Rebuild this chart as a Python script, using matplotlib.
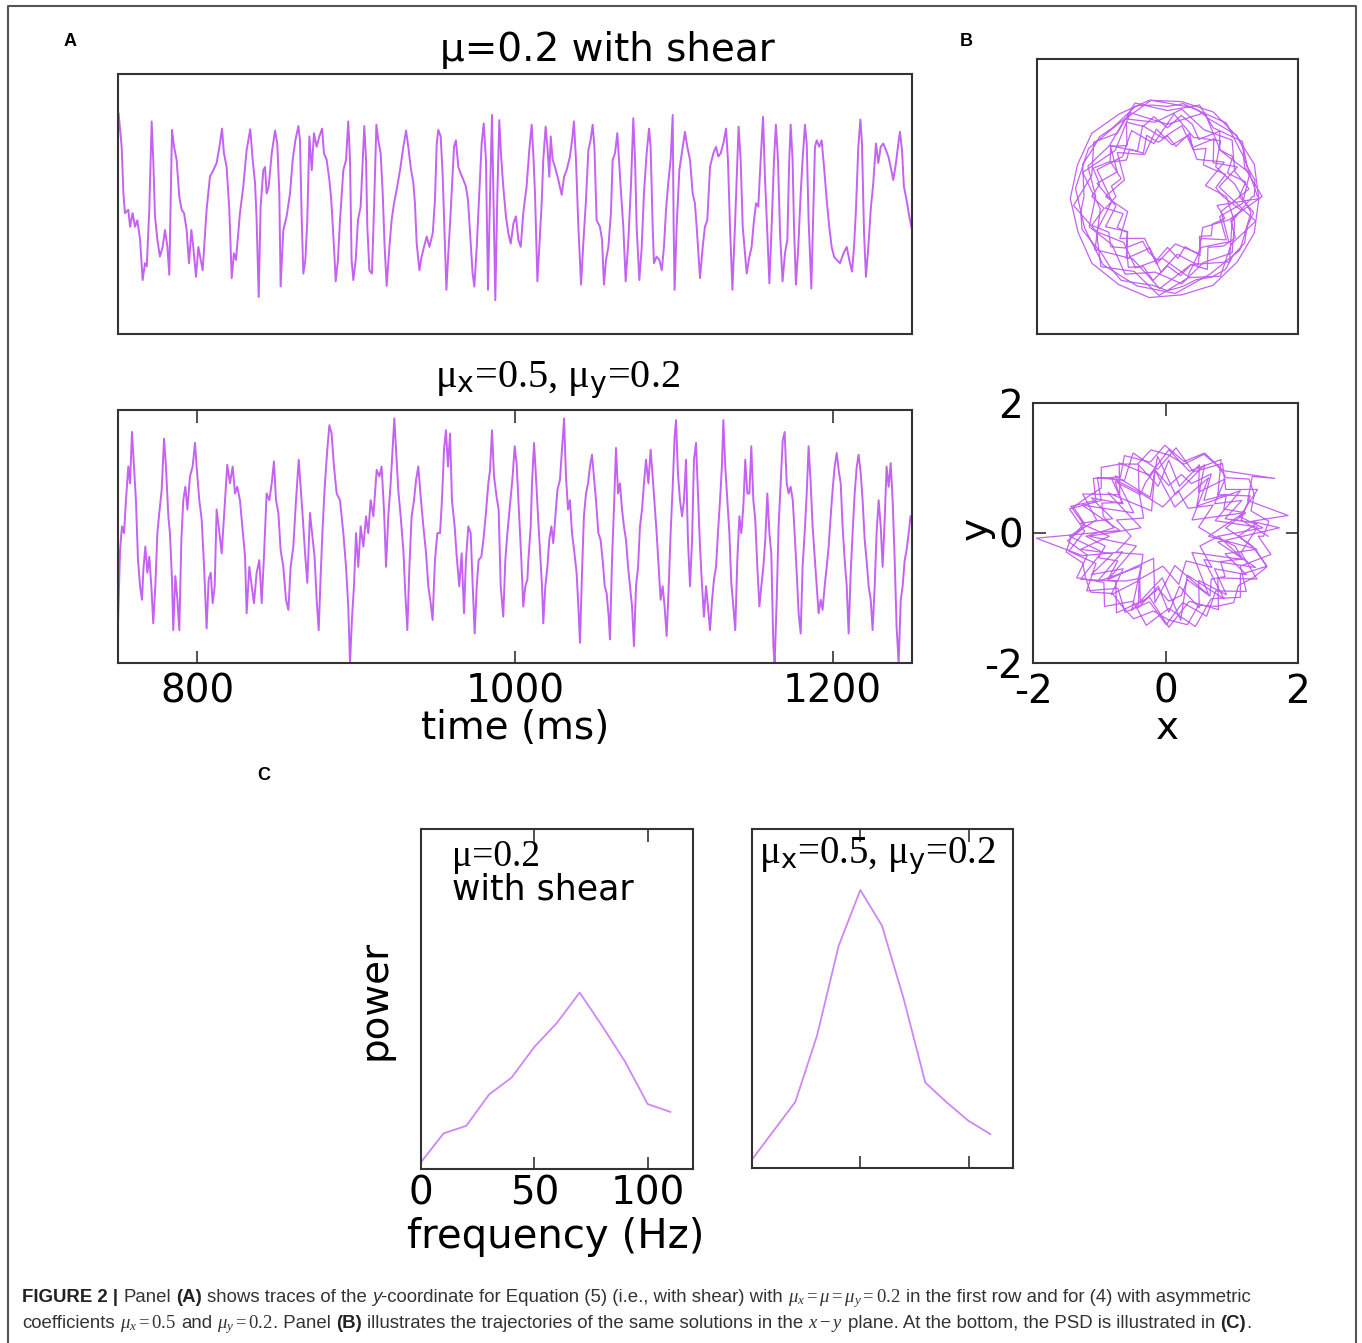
import matplotlib
matplotlib.use("Agg")
import matplotlib.pyplot as plt
from matplotlib.lines import Line2D

# ---------------- data ----------------
# Panel A, top row: y-coordinate vs time (ms), mu=0.2 with shear
trace_shear = [
    (750.4, 1.39), (752.3, 0.88), (753.4, 0.16), (754.4, -0.14), (756.5, -0.09), (757.6, -0.35), (759.2, -0.14), (760.7, -0.35), (762.2, -0.25), (763.9, -0.55),
    (765.5, -1.17), (767.0, -0.91), (768.1, -0.96), (769.7, -0.09), (771.2, 1.27), (772.2, 0.68), (773.3, -0.19), (774.8, -0.55), (776.4, -0.81), (778.1, -0.66),
    (779.6, -0.40), (781.1, -0.66), (782.3, -1.09), (784.0, 1.14), (785.3, 0.88), (786.9, 0.68), (788.6, 0.11), (790.1, -0.09), (791.6, -0.14), (793.2, -0.40),
    (794.7, -0.91), (796.2, -0.40), (797.4, -0.66), (799.1, -1.12), (800.6, -0.66), (802.1, -0.86), (803.3, -1.02), (805.8, -0.09), (807.9, 0.42), (810.0, 0.52),
    (812.1, 0.63), (814.2, 0.93), (815.5, 1.16), (816.7, 0.78), (818.4, 0.57), (820.1, -0.09), (821.6, -1.14), (823.0, -0.76), (824.3, -0.86), (826.8, -0.14),
    (828.9, 0.27), (831.0, 0.83), (833.3, 1.15), (834.8, 0.68), (836.3, 0.32), (837.3, -0.25), (838.6, -1.43), (839.8, -0.04), (841.5, 0.52), (842.6, 0.57),
    (843.6, 0.16), (844.9, 0.27), (846.8, 0.78), (848.9, 1.13), (850.3, 0.93), (851.6, 0.16), (852.4, -1.27), (854.1, -0.40), (856.2, -0.19), (858.3, 0.16),
    (860.0, 0.68), (861.7, 0.98), (863.6, 1.20), (864.6, 0.98), (865.7, -0.25), (866.7, -1.07), (868.0, -0.86), (869.2, -0.25), (870.5, 1.04), (872.0, 0.52),
    (873.4, 1.09), (875.1, 0.88), (876.8, 1.04), (878.5, 1.16), (879.7, 0.78), (881.4, 0.68), (883.1, 0.37), (884.3, 0.06), (886.0, -0.66), (887.1, -1.19),
    (888.5, -0.86), (889.8, -0.25), (891.9, 0.52), (893.6, 0.68), (895.0, 1.27), (896.1, 0.68), (897.1, -0.86), (898.2, -1.17), (899.7, -0.86), (901.1, -0.25),
    (902.8, -0.04), (904.1, 0.68), (905.1, 1.20), (906.2, 0.68), (907.0, -0.35), (908.3, -1.02), (909.9, -1.07), (911.2, -0.09), (912.7, 1.22), (913.9, 0.98),
    (915.4, 0.78), (916.7, 0.16), (917.9, -0.66), (919.2, -1.26), (920.9, -0.66), (922.3, -0.25), (923.8, 0.01), (925.5, 0.22), (927.6, 0.52), (929.7, 0.88),
    (931.4, 1.13), (932.8, 0.88), (934.3, 0.57), (936.0, 0.32), (937.0, 0.01), (938.1, -0.61), (939.8, -1.02), (941.2, -0.81), (942.7, -0.66), (944.4, -0.50),
    (946.1, -0.66), (948.2, -0.45), (949.6, 0.06), (950.7, 0.93), (951.7, 1.14), (953.2, 1.04), (954.4, 0.47), (955.5, -0.35), (956.8, -1.32), (958.0, -0.76),
    (959.1, -0.30), (960.1, 0.16), (961.6, 0.88), (962.8, 0.98), (964.3, 0.57), (965.8, 0.47), (967.5, 0.37), (969.1, 0.27), (970.4, 0.06), (971.7, -0.45),
    (973.3, -1.07), (974.4, -1.27), (975.9, -0.66), (977.5, 0.16), (979.0, 0.93), (980.3, 1.24), (981.7, 0.68), (983.0, -1.32), (984.3, 0.16), (985.5, 1.37),
    (986.4, 0.16), (987.6, -1.48), (988.9, 0.16), (990.1, 1.29), (991.4, 0.68), (992.6, 0.27), (994.3, -0.19), (995.8, -0.45), (997.3, -0.61), (999.0, -0.30),
    (1000.6, -0.19), (1002.1, -0.55), (1003.6, -0.66), (1005.2, -0.14), (1007.3, 0.27), (1009.0, 0.83), (1010.5, 1.22), (1011.5, 0.78), (1012.6, 0.16), (1014.1, -1.19),
    (1015.3, -0.66), (1016.8, 0.01), (1017.8, 0.68), (1019.3, 1.19), (1020.4, 0.88), (1021.6, 0.42), (1022.5, 1.04), (1023.7, 0.68), (1025.2, 0.57), (1027.3, 0.37),
    (1029.4, 0.14), (1030.9, 0.42), (1032.5, 0.52), (1034.6, 0.73), (1036.1, 1.01), (1037.1, 1.27), (1038.4, 0.68), (1039.9, -0.35), (1041.6, -1.24), (1043.0, -0.61),
    (1044.7, 0.06), (1046.2, 0.83), (1047.6, 0.98), (1048.9, 1.22), (1050.0, 0.88), (1051.4, -0.25), (1053.5, -0.35), (1054.8, -0.55), (1056.0, -1.24), (1057.3, -0.86),
    (1058.8, -0.66), (1060.4, -0.14), (1061.5, 0.68), (1063.0, 0.78), (1064.4, 1.09), (1065.5, 0.68), (1066.5, 0.27), (1068.2, -0.35), (1069.7, -1.19), (1071.4, -0.55),
    (1073.0, 0.27), (1074.5, 1.32), (1075.6, 0.68), (1076.6, -0.35), (1078.3, -1.17), (1079.8, -0.66), (1081.2, 0.16), (1082.9, 0.78), (1084.4, 1.16), (1085.4, 0.88),
    (1086.7, -0.35), (1087.5, -0.91), (1089.2, -0.81), (1090.9, -0.86), (1092.4, -1.02), (1093.8, -0.66), (1095.1, -0.09), (1096.5, 0.32), (1098.0, 0.68), (1099.3, 1.37),
    (1099.9, -0.35), (1100.5, -1.32), (1101.8, -0.35), (1103.5, 0.52), (1105.6, 0.88), (1107.0, 1.11), (1108.5, 0.88), (1110.2, 0.68), (1111.9, 0.16), (1113.3, 0.01),
    (1114.4, -0.35), (1116.5, -1.14), (1118.2, -0.66), (1119.6, -0.35), (1121.1, -0.25), (1122.8, 0.57), (1124.9, 0.78), (1126.6, 0.88), (1128.0, 0.73), (1129.5, 0.78),
    (1131.2, 0.93), (1132.9, 1.16), (1134.1, 0.68), (1135.4, -0.35), (1136.9, -1.32), (1138.5, -0.35), (1139.6, 0.37), (1140.8, 1.19), (1142.1, 0.68), (1143.4, -0.35),
    (1145.9, -1.07), (1147.6, -0.81), (1149.0, -0.66), (1150.5, -0.25), (1151.8, 0.01), (1153.2, -0.04), (1154.7, 0.68), (1156.2, 1.34), (1157.4, 0.42), (1158.9, -0.45),
    (1160.2, -1.22), (1161.6, -0.35), (1163.1, 0.68), (1164.3, 1.22), (1165.6, 0.68), (1166.9, -0.45), (1168.5, -1.19), (1170.0, -0.76), (1171.5, -0.55), (1172.7, 0.68),
    (1173.6, 1.22), (1174.8, 0.68), (1175.7, -0.35), (1176.9, -1.24), (1178.4, -0.66), (1179.9, 0.16), (1181.1, 0.68), (1182.6, 1.22), (1183.7, 0.93), (1184.9, -0.25),
    (1186.6, -1.30), (1187.9, -0.04), (1188.9, 0.88), (1190.0, 0.98), (1191.6, 0.88), (1193.1, 0.98), (1194.6, 0.57), (1196.3, 0.06), (1197.9, -0.35), (1199.4, -0.66),
    (1200.9, -0.81), (1202.6, -0.86), (1204.7, -0.91), (1206.8, -0.76), (1208.9, -0.66), (1210.5, -0.86), (1212.2, -1.04), (1213.5, -0.66), (1214.7, -0.09), (1216.2, 0.88),
    (1217.5, 1.30), (1218.5, 0.93), (1219.8, -0.45), (1221.0, -1.12), (1222.5, -0.66), (1224.0, -0.09), (1225.6, 0.32), (1227.3, 0.93), (1228.8, 0.63), (1230.3, 0.88),
    (1231.9, 0.93), (1233.6, 0.83), (1235.1, 0.73), (1236.6, 0.57), (1238.2, 0.37), (1239.9, 0.63), (1241.4, 0.93), (1242.4, 1.11), (1243.7, 0.83), (1244.9, 0.27),
    (1246.6, 0.06), (1248.3, -0.19), (1249.6, -0.35),
]

# Panel A, bottom row: mu_x=0.5, mu_y=0.2
trace_asym = [
    (750.0, -1.03), (751.3, -0.16), (752.5, 0.12), (753.8, 0.04), (755.0, 0.43), (756.5, 0.83), (757.6, 0.63), (758.8, 1.24), (760.1, 0.83), (761.3, 0.43),
    (762.6, -0.28), (763.9, -0.59), (765.1, -0.75), (766.0, -0.39), (767.2, -0.12), (768.5, -0.43), (769.7, -0.24), (771.0, -0.59), (772.2, -1.03), (773.5, -0.59),
    (774.8, 0.04), (776.0, 0.28), (777.5, 0.55), (779.0, 1.16), (780.2, 0.83), (781.7, 0.24), (782.7, 0.04), (784.0, -0.51), (784.8, -1.11), (786.1, -0.47),
    (787.4, -0.75), (788.6, -1.11), (789.9, -0.04), (791.1, 0.43), (792.4, 0.59), (793.7, 0.32), (795.3, 0.71), (797.0, 0.83), (798.5, 1.11), (799.5, 0.83),
    (801.2, 0.43), (802.7, 0.20), (804.2, -0.36), (805.8, -1.09), (807.1, -0.51), (808.4, -0.43), (809.6, -0.79), (810.9, -0.59), (812.1, 0.32), (813.4, 0.12),
    (815.3, -0.20), (817.4, 0.43), (818.8, 0.85), (820.5, 0.63), (822.2, 0.83), (823.7, 0.51), (825.1, 0.59), (826.8, 0.43), (828.5, 0.08), (830.0, -0.24),
    (831.0, -0.91), (832.7, -0.36), (834.2, -0.59), (835.6, -0.79), (837.3, -0.43), (839.0, -0.28), (840.5, -0.79), (841.9, -0.24), (843.6, 0.51), (845.3, 0.43),
    (846.8, 0.63), (848.2, 0.89), (849.5, 0.43), (851.0, 0.28), (852.4, -0.16), (854.1, -0.36), (855.8, -0.75), (857.3, -0.87), (858.7, -0.36), (860.4, -0.12),
    (862.1, 0.43), (863.8, 0.91), (865.0, 0.59), (866.3, 0.24), (867.8, -0.20), (869.2, -0.55), (870.9, 0.28), (872.2, 0.04), (873.8, -0.24), (875.1, -0.75),
    (876.4, -1.11), (877.6, -0.47), (878.9, 0.12), (880.3, 0.63), (881.8, 1.03), (883.1, 1.32), (884.5, 1.22), (886.0, 0.83), (887.7, 0.51), (889.8, 0.43),
    (891.9, 0.04), (893.6, -0.36), (895.0, -0.83), (896.1, -1.50), (897.4, -0.95), (898.6, -0.59), (899.9, 0.04), (901.3, -0.36), (902.8, 0.12), (904.5, -0.12),
    (906.2, 0.24), (907.6, 0.04), (909.1, 0.43), (910.8, 0.24), (912.9, 0.79), (914.6, 0.71), (916.0, 0.83), (917.5, 0.32), (918.8, -0.36), (920.2, 0.24),
    (921.7, 0.63), (923.0, 1.07), (924.0, 1.40), (925.1, 1.03), (926.5, 0.55), (928.0, 0.24), (929.7, -0.16), (930.9, -0.67), (932.2, -1.11), (933.5, -0.36),
    (934.9, 0.24), (936.4, 0.43), (937.7, 0.67), (939.1, 0.83), (940.6, 0.47), (942.3, 0.12), (944.0, -0.20), (945.4, -0.59), (946.9, -0.79), (948.1, -0.99),
    (949.6, -0.28), (951.1, 0.04), (952.8, 0.04), (954.0, 0.43), (955.3, 1.03), (956.5, 1.26), (957.8, 0.83), (959.1, 1.22), (960.3, 0.43), (962.0, 0.12),
    (963.3, -0.24), (964.9, -0.59), (966.4, -0.20), (967.9, -0.91), (969.1, -0.28), (970.6, 0.12), (972.1, 0.04), (973.3, -0.55), (974.6, -1.15), (975.9, -0.59),
    (977.1, -0.28), (978.8, -0.24), (980.1, -0.04), (981.7, 0.28), (983.2, 0.63), (984.3, 0.79), (985.5, 1.26), (986.8, 0.71), (988.4, 0.47), (989.7, 0.32),
    (991.0, -0.59), (992.6, -0.95), (993.9, -0.28), (995.2, 0.04), (996.8, 0.36), (998.5, 0.71), (999.8, 1.07), (1001.0, 0.87), (1002.3, 0.36), (1004.0, -0.28),
    (1005.2, -0.83), (1006.5, -0.59), (1007.8, -0.51), (1008.4, -0.28), (1009.9, 0.12), (1010.7, 0.63), (1012.0, 1.11), (1013.2, 0.71), (1014.5, 0.24), (1015.7, -0.16),
    (1017.0, -0.59), (1017.8, -1.03), (1019.1, -0.59), (1020.4, -0.36), (1021.6, -0.04), (1022.9, 0.12), (1024.1, -0.08), (1025.4, 0.24), (1026.7, 0.55), (1028.3, 0.67),
    (1029.6, 1.03), (1030.9, 1.40), (1032.1, 0.71), (1033.4, 0.32), (1034.6, 0.43), (1035.9, 0.04), (1037.2, -0.16), (1038.8, -0.43), (1040.1, -0.91), (1040.9, -1.26),
    (1042.2, -0.43), (1043.4, 0.24), (1044.7, 0.51), (1046.0, 0.63), (1047.2, 0.83), (1048.5, 0.97), (1049.7, 0.71), (1051.0, 0.43), (1052.5, 0.04), (1053.9, -0.04),
    (1055.2, -0.28), (1056.5, -0.59), (1057.7, -0.67), (1059.0, -0.95), (1059.8, -1.22), (1061.1, -0.28), (1062.3, 0.32), (1063.6, 1.05), (1064.9, 0.51), (1066.1, 0.63),
    (1067.4, 0.32), (1068.6, 0.12), (1069.9, -0.04), (1071.2, -0.36), (1072.4, -0.59), (1073.7, -0.83), (1074.9, -1.30), (1076.2, -0.59), (1077.5, -0.36), (1078.7, 0.12),
    (1080.0, 0.32), (1081.2, 0.63), (1082.5, 0.91), (1084.0, 0.63), (1085.4, 1.03), (1086.7, 0.71), (1087.9, 0.39), (1089.2, 0.04), (1090.5, -0.36), (1091.7, -0.75),
    (1093.0, -0.59), (1094.2, -0.83), (1095.5, -1.18), (1096.8, -0.59), (1098.0, 0.04), (1099.3, 0.59), (1100.5, 1.18), (1101.4, 1.38), (1102.6, 0.75), (1103.9, 0.43),
    (1105.2, 0.24), (1106.4, 0.43), (1107.7, 0.91), (1108.9, -0.04), (1110.2, -0.59), (1111.5, -0.04), (1112.7, 0.91), (1114.0, 1.11), (1115.2, 0.51), (1116.5, -0.12),
    (1117.8, -0.59), (1119.0, -0.95), (1120.3, -0.59), (1121.5, -0.83), (1122.8, -1.11), (1124.1, -0.75), (1125.3, -0.51), (1126.6, -0.36), (1127.8, 0.04), (1129.1, 0.43),
    (1130.3, 0.83), (1131.2, 1.38), (1132.4, 0.83), (1133.7, 0.43), (1135.0, 0.04), (1136.2, -0.55), (1137.5, -0.83), (1138.7, -1.11), (1140.0, -0.28), (1141.3, 0.24),
    (1142.5, 0.04), (1143.8, 0.36), (1145.0, 0.91), (1146.3, 0.51), (1147.6, 0.51), (1148.8, 1.07), (1150.1, 0.43), (1151.3, 0.20), (1152.6, -0.36), (1153.9, -0.83),
    (1155.1, -0.59), (1156.4, -0.36), (1157.6, -0.04), (1158.9, 0.51), (1160.2, 0.04), (1161.4, -0.20), (1162.7, -1.30), (1163.5, -1.50), (1164.8, -0.75), (1166.0, 0.12),
    (1167.3, 0.63), (1168.6, 1.14), (1169.8, 1.24), (1171.1, 0.63), (1172.3, 0.51), (1173.6, 0.59), (1174.9, 0.43), (1176.1, 0.04), (1177.4, -0.43), (1178.6, -0.91),
    (1179.9, -1.15), (1181.1, -0.36), (1182.4, 0.04), (1183.7, 0.51), (1184.9, 1.07), (1186.2, 0.63), (1187.4, 0.12), (1188.7, -0.24), (1190.0, -0.59), (1191.2, -0.91),
    (1192.5, -0.75), (1193.7, -0.87), (1195.0, -0.59), (1196.3, -0.36), (1197.5, -0.12), (1198.8, 0.24), (1200.0, 0.55), (1201.3, 0.83), (1202.6, 0.99), (1203.8, 0.79),
    (1205.1, 0.63), (1206.3, 0.12), (1207.6, -0.28), (1208.9, -0.59), (1210.1, -1.15), (1211.4, -0.43), (1212.6, 0.04), (1213.9, 0.51), (1215.2, 0.83), (1216.4, 0.97),
    (1217.7, 0.75), (1218.9, 0.43), (1220.2, -0.04), (1221.4, -0.28), (1222.7, -0.59), (1224.0, -0.75), (1225.2, -1.11), (1226.5, -0.59), (1227.7, 0.04), (1229.0, 0.43),
    (1230.3, 0.12), (1231.5, -0.36), (1232.8, 0.20), (1234.0, 0.83), (1235.3, 0.59), (1236.6, 0.87), (1237.8, 0.43), (1239.1, -0.28), (1240.3, -1.07), (1241.6, -1.50),
    (1242.9, -0.75), (1244.1, -0.59), (1245.4, -0.28), (1246.6, -0.16), (1247.9, 0.04), (1249.1, 0.24),
]

# Panel B: trajectories in the x-y plane
orbit_shear = [
    (1.38, 0.0), (1.18, 0.55), (0.90, 1.07), (0.35, 1.30), (-0.25, 1.40), (-0.75, 1.06), (-1.21, 0.70), (-1.41, 0.12), (-1.27, -0.46), (-0.99, -0.99),
    (-0.47, -1.30), (0.12, -1.41), (0.65, -1.13), (1.11, -0.78), (1.28, -0.23),
    (1.03, 0.18), (0.74, 0.43), (0.81, 0.81), (0.40, 0.86), (0.10, 1.20), (-0.21, 0.77), (-0.55, 0.96), (-0.69, 0.58), (-1.08, 0.39), (-0.85, -0.07),
    (-1.09, -0.51), (-0.67, -0.67), (-0.49, -1.04), (-0.08, -0.90), (0.31, -1.16), (0.52, -0.74), (0.94, -0.66), (0.82, -0.22),
    (1.25, 0.11), (1.03, 0.37), (0.99, 0.82), (0.56, 0.97), (0.22, 1.27), (-0.19, 1.08), (-0.65, 1.13), (-0.89, 0.74), (-1.22, 0.44), (-1.10, 0.0),
    (-1.20, -0.44), (-0.85, -0.70), (-0.65, -1.13), (-0.19, -1.10), (0.22, -1.27), (0.55, -0.96), (0.99, -0.82), (1.03, -0.37),
    (0.90, 0.0), (0.58, 0.16), (0.87, 0.50), (0.45, 0.54), (0.32, 0.89), (0.07, 0.75), (-0.17, 0.98), (-0.35, 0.61), (-0.77, 0.64), (-0.66, 0.24),
    (-0.95, 0.0), (-0.61, -0.22), (-0.73, -0.61), (-0.35, -0.61), (-0.17, -0.98), (0.12, -0.69), (0.48, -0.83), (0.54, -0.45), (0.94, -0.34),
    (1.45, 0.0), (1.18, 0.43), (1.15, 0.80), (0.70, 1.00), (0.49, 1.33), (0.0, 1.25), (-0.50, 1.36), (-0.77, 0.92), (-1.13, 0.79), (-1.16, 0.31),
    (-1.44, -0.13), (-1.09, -0.51), (-1.02, -1.02), (-0.51, -1.09), (-0.13, -1.44), (0.32, -1.18), (0.81, -1.16), (0.98, -0.69), (1.35, -0.36),
    (0.79, 0.14), (1.07, 0.43), (0.70, 0.49), (0.71, 0.84), (0.38, 0.71), (0.22, 1.03), (-0.07, 0.85), (-0.38, 1.03), (-0.46, 0.66), (-0.88, 0.74),
    (-0.77, 0.36), (-1.08, 0.19), (-0.79, -0.14), (-0.95, -0.44), (-0.61, -0.51), (-0.63, -0.90), (-0.27, -0.75), (-0.10, -1.10), (0.15, -0.84), (0.47, -1.00),
    (0.51, -0.61), (0.90, -0.63), (0.80, -0.29), (1.15, -0.10),
    (1.26, 0.34), (0.81, 0.67), (0.57, 1.22), (0.0, 1.05), (-0.57, 1.22), (-0.80, 0.67), (-1.30, 0.35), (-1.03, -0.18), (-1.11, -0.77), (-0.53, -0.91),
    (-0.12, -1.34), (0.36, -0.99), (0.95, -0.95), (0.99, -0.36), (1.30, 0.0),
    (1.33, 0.00), (1.34, 0.24), (1.22, 0.44), (1.17, 0.68), (1.06, 0.89), (0.85, 1.01), (0.65, 1.12), (0.46, 1.26), (0.24, 1.35), (0.00, 1.31),
    (-0.23, 1.33), (-0.48, 1.32), (-0.67, 1.15), (-0.84, 1.00), (-1.04, 0.87), (-1.16, 0.67), (-1.30, 0.47), (-1.29, 0.23), (-1.28, 0.00), (-1.33, -0.23),
    (-1.31, -0.48), (-1.15, -0.67), (-1.00, -0.84), (-0.87, -1.04), (-0.71, -1.22), (-0.46, -1.26), (-0.23, -1.29), (0.00, -1.37), (0.23, -1.31), (0.44, -1.21),
    (0.68, -1.17), (0.89, -1.06), (1.01, -0.85), (1.18, -0.68), (1.22, -0.44), (1.32, -0.23),
    (1.10, 0.00), (1.20, 0.21), (0.92, 0.34), (1.00, 0.58), (0.80, 0.68), (0.80, 0.95), (0.48, 0.83), (0.38, 1.05), (0.21, 1.18), (0.00, 1.00),
    (-0.21, 1.16), (-0.37, 1.02), (-0.63, 1.08), (-0.62, 0.74), (-0.87, 0.73), (-0.88, 0.51), (-1.14, 0.41), (-1.04, 0.18), (-1.16, 0.00), (-0.97, -0.17),
    (-1.16, -0.42), (-0.90, -0.52), (-0.87, -0.73), (-0.63, -0.75), (-0.60, -1.03), (-0.37, -1.02), (-0.22, -1.22), (0.00, -1.01), (0.20, -1.15), (0.36, -0.99),
    (0.61, -1.06), (0.62, -0.74), (0.86, -0.72), (1.04, -0.60), (0.97, -0.35), (1.13, -0.20),
    (0.85, 0.00), (0.74, 0.13), (0.89, 0.32), (0.69, 0.40), (0.55, 0.46), (0.59, 0.70), (0.39, 0.68), (0.34, 0.92), (0.13, 0.73), (0.00, 0.88),
    (-0.14, 0.79), (-0.32, 0.89), (-0.37, 0.63), (-0.58, 0.69), (-0.63, 0.53), (-0.87, 0.50), (-0.71, 0.26), (-0.86, 0.15), (-0.79, 0.00), (-0.95, -0.17),
    (-0.68, -0.25), (-0.77, -0.45), (-0.62, -0.52), (-0.62, -0.74), (-0.38, -0.65), (-0.29, -0.81), (-0.16, -0.92), (0.00, -0.74), (0.16, -0.90), (0.27, -0.73),
    (0.50, -0.86), (0.49, -0.58), (0.67, -0.57), (0.69, -0.40), (0.88, -0.32), (0.76, -0.13),
    (1.40, -0.03), (1.33, 0.47), (1.06, 0.88), (0.70, 1.23), (0.22, 1.38), (-0.28, 1.40), (-0.74, 1.20), (-1.16, 0.92), (-1.38, 0.46), (-1.49, -0.03),
    (-1.37, -0.52), (-1.16, -0.97), (-0.75, -1.28), (-0.28, -1.47), (0.22, -1.43), (0.70, -1.29), (1.07, -0.95), (1.33, -0.53), (1.40, -0.03),
]

orbit_asym = [
    (1.55, -0.05), (1.14, 0.20), (1.28, 0.57), (0.79, 0.59), (0.84, 1.13), (0.36, 0.95), (0.05, 1.28), (-0.24, 0.89), (-0.70, 1.08), (-0.69, 0.59),
    (-1.25, 0.60), (-1.04, 0.20), (-1.45, -0.05), (-0.96, -0.29), (-1.28, -0.71), (-0.75, -0.74), (-0.74, -1.23), (-0.24, -0.99), (0.05, -1.45), (0.36, -1.05),
    (0.80, -1.18), (0.79, -0.69), (1.38, -0.71), (1.14, -0.30),
    (1.39, 0.09), (0.75, 0.19), (1.13, 0.65), (0.47, 0.41), (0.59, 1.05), (0.15, 0.59), (-0.12, 1.18), (-0.23, 0.55), (-0.76, 0.88), (-0.48, 0.31),
    (-1.26, 0.43), (-0.69, 0.04), (-1.95, -0.08), (-1.25, -0.35), (-0.65, -0.29), (-1.03, -0.75), (-0.37, -0.51), (-0.51, -1.19), (-0.05, -0.69), (0.23, -1.34),
    (0.33, -0.65), (0.88, -1.01), (0.58, -0.41), (1.36, -0.53), (0.79, -0.14),
    (1.72, 0.08), (1.30, 0.18), (1.85, 0.27), (1.24, 0.50), (1.31, 0.87), (1.65, 0.84), (0.87, 0.96), (0.59, 1.23), (0.28, 1.10), (-0.01, 1.35),
    (-0.23, 1.09), (-0.62, 1.19), (-0.68, 0.86), (-1.09, 0.84), (-1.05, 0.50), (-1.43, 0.41), (-1.21, 0.10), (-1.48, -0.12), (-1.18, -0.34), (-1.34, -0.69),
    (-0.93, -0.76), (-0.92, -1.13), (-0.49, -1.05), (-0.29, -1.42), (0.05, -1.16), (0.38, -1.39), (0.45, -1.44), (0.69, -1.01), (1.13, -0.99), (1.13, -0.64),
    (1.53, -0.51), (1.31, -0.20),
    (1.10, -0.05), (1.38, 0.15), (0.90, 0.22), (1.15, 0.50), (0.74, 0.45), (0.90, 0.83), (0.50, 0.63), (0.51, 1.05), (0.21, 0.72), (0.05, 1.12),
    (-0.11, 0.72), (-0.41, 1.05), (-0.40, 0.63), (-0.82, 0.85), (-0.64, 0.45), (-1.12, 0.54), (-0.80, 0.22), (-1.28, 0.15), (-0.85, -0.05), (-1.28, -0.25),
    (-0.80, -0.32), (-1.12, -0.64), (-0.64, -0.55), (-0.82, -0.95), (-0.40, -0.73), (-0.41, -1.15), (-0.11, -0.82), (0.05, -1.22), (0.21, -0.82), (0.51, -1.15),
    (0.50, -0.73), (0.92, -0.95), (0.74, -0.55), (1.22, -0.64), (0.90, -0.32), (1.38, -0.25),
    (0.65, -0.05), (1.18, 0.31), (0.40, 0.20), (0.65, 0.85), (0.14, 0.40), (-0.16, 0.97), (-0.21, 0.34), (-0.87, 0.62), (-0.37, 0.08), (-1.15, -0.05),
    (-0.44, -0.20), (-0.87, -0.72), (-0.18, -0.39), (-0.16, -1.07), (0.14, -0.50), (0.65, -0.95), (0.40, -0.30), (1.18, -0.41), (0.80, -0.05),
    (1.47, 0.08), (1.12, 0.25), (1.39, 0.67), (0.91, 0.67), (0.86, 1.07), (0.42, 0.94), (0.16, 1.31), (-0.12, 0.98), (-0.49, 1.23), (-0.62, 0.81),
    (-1.03, 0.85), (-0.97, 0.50), (-1.45, 0.37), (-1.22, 0.03), (-1.46, -0.28), (-1.05, -0.47), (-1.19, -0.89), (-0.72, -0.85), (-0.61, -1.22), (-0.24, -1.06),
    (0.01, -1.41), (0.26, -1.07), (0.62, -1.28), (0.76, -0.89), (1.22, -0.90), (1.13, -0.51), (1.59, -0.33), (1.40, -0.05),
    (1.48, -0.05), (1.56, 0.18), (1.29, 0.34), (1.34, 0.59), (1.26, 0.83), (0.92, 0.85), (0.78, 1.04), (0.58, 1.21), (0.28, 1.06), (0.05, 1.20),
    (-0.22, 1.28), (-0.42, 1.06), (-0.69, 1.06), (-0.97, 1.01), (-0.97, 0.69), (-1.17, 0.56), (-1.39, 0.40), (-1.22, 0.14), (-1.42, -0.05), (-1.50, -0.29),
    (-1.25, -0.46), (-1.21, -0.68), (-1.13, -0.91), (-0.80, -0.93), (-0.66, -1.12), (-0.48, -1.32), (-0.18, -1.20), (0.05, -1.34), (0.33, -1.41), (0.50, -1.11),
    (0.77, -1.13), (1.03, -1.07), (1.10, -0.81), (1.32, -0.69), (1.53, -0.52), (1.36, -0.25),
    (1.10, -0.05), (0.91, 0.08), (1.21, 0.31), (0.88, 0.37), (0.92, 0.59), (0.58, 0.50), (0.69, 0.91), (0.39, 0.76), (0.24, 0.90), (0.05, 0.73),
    (-0.16, 0.97), (-0.30, 0.78), (-0.38, 0.59), (-0.76, 0.79), (-0.66, 0.47), (-0.96, 0.46), (-0.94, 0.26), (-0.78, 0.08), (-1.20, -0.05), (-0.91, -0.20),
    (-1.01, -0.38), (-0.72, -0.43), (-0.88, -0.73), (-0.62, -0.74), (-0.39, -0.70), (-0.38, -1.08), (-0.11, -0.86), (0.05, -1.05), (0.24, -0.96), (0.33, -0.72),
    (0.67, -0.97), (0.69, -0.71), (0.90, -0.67), (0.83, -0.44), (1.16, -0.40), (1.05, -0.20),
    (0.73, -0.05), (0.50, 0.09), (0.72, 0.43), (0.34, 0.38), (0.19, 0.65), (-0.04, 0.40), (-0.40, 0.63), (-0.33, 0.23), (-0.74, 0.20), (-0.52, -0.05),
    (-0.75, -0.30), (-0.34, -0.33), (-0.39, -0.71), (-0.04, -0.51), (0.20, -0.79), (0.31, -0.43), (0.70, -0.53), (0.52, -0.20), (0.80, -0.05),
]

# Panel C: power spectral density (relative units)
freq_hz = [0, 10, 20, 30, 40, 50, 60, 70, 80, 90, 100, 110]
psd_shear = [0.02, 0.105, 0.127, 0.219, 0.269, 0.359, 0.43, 0.519, 0.42, 0.316, 0.191, 0.168]
psd_asym = [0.025, 0.11, 0.195, 0.39, 0.655, 0.82, 0.715, 0.50, 0.252, 0.193, 0.139, 0.10]

time_ticks = [800, 1000, 1200]
xy_ticks = [-2, 0, 2]
freq_ticks = [0, 50, 100]

# ---------------- figure ----------------
W, H = 1362, 1343
plt.rcParams["axes.unicode_minus"] = False
plt.rcParams["mathtext.fontset"] = "custom"
plt.rcParams["mathtext.rm"] = "Liberation Serif"
plt.rcParams["mathtext.it"] = "Liberation Serif:italic"
plt.rcParams["mathtext.bf"] = "Liberation Serif:bold"
plt.rcParams["mathtext.sf"] = "DejaVu Sans"
plt.rcParams["font.family"] = ["DejaVu Sans"]

fig = plt.figure(figsize=(W / 100, H / 100), dpi=100)
fig.patch.set_facecolor("white")

LINE = "#c462f2"
PSD_LINE = "#cf86f5"
SPINE = "#333333"


def fx(px):
    return px / W


def fy(py):
    return 1 - py / H


def axes_px(x0, y0, x1, y1):
    return fig.add_axes([x0 / W, 1 - y1 / H, (x1 - x0) / W, (y1 - y0) / H])


def style_box(ax):
    for s in ax.spines.values():
        s.set_linewidth(1.5)
        s.set_color(SPINE)
    ax.tick_params(direction="in", length=9, width=1.2, colors=SPINE,
                   labelcolor="black", labelsize=28, pad=7)


# outer frame
fig.add_artist(Line2D([fx(8), fx(8), fx(1356), fx(1356)],
                      [fy(1350), fy(6), fy(6), fy(1350)],
                      color="#555555", lw=1.5, transform=fig.transFigure))

# panel letters
for lab, (px, py) in {"A": (70, 42), "B": (966, 42), "C": (264, 776)}.items():
    fig.text(fx(px), fy(py), lab, fontsize=13, fontweight="bold",
             family=["Liberation Sans"], ha="center", va="center")

# ---- Panel A top ----
ax = axes_px(118, 74, 912, 334)
ax.plot([p[0] for p in trace_shear], [p[1] for p in trace_shear], color=LINE, lw=1.4)
ax.set_xlim(750, 1250)
ax.set_ylim(-2, 2)
ax.set_xticks([])
ax.set_yticks([])
style_box(ax)
fig.text(fx(607), fy(50), "μ=0.2 with shear", fontsize=28, ha="center", va="center")

# ---- Panel A bottom ----
ax = axes_px(118, 410, 912, 663)
ax.plot([p[0] for p in trace_asym], [p[1] for p in trace_asym], color=LINE, lw=1.4)
ax.set_xlim(750, 1250)
ax.set_ylim(-1.5, 1.5)
ax.set_xticks(time_ticks)
ax.set_yticks([])
style_box(ax)
ax.tick_params(axis="x", top=True)
fig.text(fx(557), fy(380), r"μ$_{\mathsf{x}}$=0.5, μ$_{\mathsf{y}}$=0.2", fontsize=29,
         family=["Liberation Serif"], ha="center", va="center")
fig.text(fx(515), fy(728), "time (ms)", fontsize=28, ha="center", va="center")

# ---- Panel B top ----
ax = axes_px(1037, 59, 1298, 334)
ax.plot([p[0] for p in orbit_shear], [p[1] for p in orbit_shear], color=LINE, lw=0.9)
ax.set_xlim(-2, 2)
ax.set_ylim(-2, 2)
ax.set_xticks([])
ax.set_yticks([])
style_box(ax)

# ---- Panel B bottom ----
ax = axes_px(1033, 403, 1298, 663)
ax.plot([p[0] for p in orbit_asym], [p[1] for p in orbit_asym], color=LINE, lw=0.9)
ax.set_xlim(-2, 2)
ax.set_ylim(-2, 2)
ax.set_xticks(xy_ticks)
ax.set_yticks(xy_ticks)
style_box(ax)
ax.tick_params(top=True, right=True)
fig.text(fx(1167), fy(728), "x", fontsize=28, ha="center", va="center")
fig.text(fx(976), fy(528), "y", fontsize=28, ha="center", va="center", rotation=90)

# ---- Panel C left ----
ax = axes_px(421, 829, 693, 1169)
ax.plot(freq_hz, psd_shear, color=PSD_LINE, lw=1.3)
ax.set_xlim(0, 120)
ax.set_ylim(0, 1)
ax.set_xticks(freq_ticks)
ax.set_yticks([])
style_box(ax)
ax.tick_params(axis="x", top=True, pad=4)
ax.text(31 / 272, (1169 - 857) / 340, "μ=0.2", transform=ax.transAxes, fontsize=27,
        family=["Liberation Serif"], ha="left", va="center")
ax.text(31 / 272, (1169 - 890) / 340, "with shear", transform=ax.transAxes, fontsize=25,
        ha="left", va="center")
fig.text(fx(556), fy(1237), "frequency (Hz)", fontsize=29, ha="center", va="center")
fig.text(fx(375), fy(1000), "power", fontsize=28, ha="center", va="center", rotation=90)

# ---- Panel C right ----
ax = axes_px(752, 829, 1013, 1168)
ax.plot(freq_hz, psd_asym, color=PSD_LINE, lw=1.3)
ax.set_xlim(0, 120.5)
ax.set_ylim(0, 1)
ax.set_xticks(freq_ticks[1:])
ax.set_xticklabels([])
ax.set_yticks([])
style_box(ax)
ax.tick_params(axis="x", top=True)
ax.text(0.48, (1168 - 857) / 339, r"μ$_{\mathsf{x}}$=0.5, μ$_{\mathsf{y}}$=0.2", transform=ax.transAxes,
        fontsize=28, family=["Liberation Serif"], ha="center", va="center")

# ---------------- caption ----------------
line1 = [
    ("FIGURE 2 |", "b"), (" Panel ", "n"), ("(A)", "b"), (" shows traces of the ", "n"), ("y", "i"),
    ("-coordinate for Equation (5) (i.e., with shear) with ", "n"),
    (r"$\mu_x = \mu = \mu_y = 0.2$", "n"), (" in the first row and for (4) with asymmetric", "n"),
]
line2 = [
    ("coefficients ", "n"), (r"$\mu_x = 0.5$", "n"), (" and ", "n"), (r"$\mu_y = 0.2$", "n"),
    (". Panel ", "n"), ("(B)", "b"), (" illustrates the trajectories of the same solutions in the ", "n"),
    (r"$x - y$", "n"), (" plane. At the bottom, the PSD is illustrated in ", "n"), ("(C)", "b"), (".", "n"),
]

renderer = fig.canvas.get_renderer()
CAP_FAMILY = ["Liberation Sans Narrow", "Liberation Sans"]


def make_kw(style, size):
    kw = dict(fontsize=size, family=CAP_FAMILY, color="#333333", ha="left", va="baseline")
    if style == "b":
        kw["fontweight"] = "bold"
        kw["color"] = "#222222"
    if style == "i":
        kw["fontstyle"] = "italic"
    return kw


def space_width(style, size):
    a = fig.text(0, 0, "a a", **make_kw(style, size))
    b = fig.text(0, 0, "aa", **make_kw(style, size))
    w = a.get_window_extent(renderer).width - b.get_window_extent(renderer).width
    a.remove()
    b.remove()
    return w


def draw_line(pieces, x_px, y_px, size, draw=True):
    x = x_px
    sw = space_width("n", size)
    made = []
    for s, style in pieces:
        lead = len(s) - len(s.lstrip(" "))
        trail = len(s) - len(s.rstrip(" "))
        core = s.strip(" ")
        x += lead * sw
        if core:
            t = fig.text(fx(x), fy(y_px), core, **make_kw(style, size))
            x += t.get_window_extent(renderer).width
            made.append(t)
        x += trail * sw
    if not draw:
        for t in made:
            t.remove()
    return x - x_px


base = 12.0
w1 = draw_line(line1, 22, 1302, base, draw=False)
size = base * (1258 - 22) / w1
draw_line(line1, 22, 1302, size)
draw_line(line2, 22, 1328, size)

fig.savefig("out.png", dpi=100, facecolor="white")
